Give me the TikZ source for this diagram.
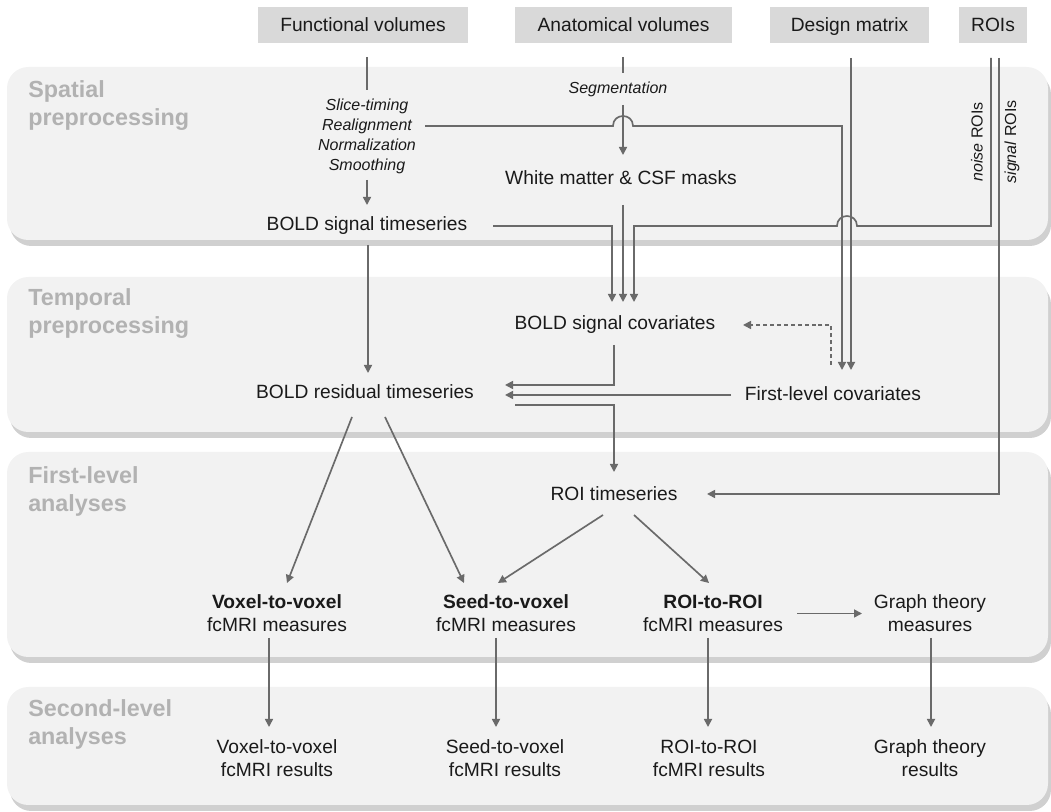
\documentclass[tikz,border=0pt]{standalone}
\usepackage{fontspec}
\setmainfont{Liberation Sans}
\usetikzlibrary{arrows.meta,calc}
\definecolor{linec}{HTML}{6A6A6A}
\definecolor{txtc}{HTML}{1A1A1A}
\definecolor{panelc}{HTML}{F2F2F2}
\definecolor{shadowc}{HTML}{D0D0D0}
\definecolor{hdrc}{HTML}{D9D9D9}
\definecolor{titc}{HTML}{B2B2B2}
\begin{document}
\begin{tikzpicture}[x=0.75pt,y=-0.75pt,
  conn/.style={draw=linec, line width=1.25pt},
  arr/.style={conn, -{Triangle[length=6pt,width=6pt]}},
  dasharr/.style={arr, dash pattern=on 3pt off 2.2pt},
  txt/.style={font=\fontsize{14.4}{17.3}\selectfont, text=txtc, inner sep=0pt, align=center},
  itx/.style={font=\fontsize{12}{15}\selectfont\itshape, text=txtc, inner sep=0pt, align=center},
  rot/.style={font=\fontsize{12}{15}\selectfont, text=txtc, inner sep=0pt, rotate=90},
  hdr/.style={txt, fill=hdrc, minimum height=27pt, text height=10.3pt, text depth=0pt},
  ptitle/.style={font=\fontsize{17.5}{21}\selectfont\bfseries, text=titc, align=left, anchor=west, inner sep=0pt},
  panel/.style={fill=panelc, rounded corners=16pt},
  pshadow/.style={fill=shadowc, rounded corners=16pt}]
\useasboundingbox (0,0) rectangle (1051,812);
% panels
\foreach \t/\b in {67/240, 277/432, 452/657, 687/805} {
  \path[pshadow] (10,\t+6) rectangle (1051,\b+6);
  \path[panel] (7,\t) rectangle (1048,\b);
}
\node[ptitle] (t1) at (28,106) {Spatial\\preprocessing};
\node[ptitle] (t2) at (28,314) {Temporal\\preprocessing};
\node[ptitle] (t3) at (28,491.5) {First-level\\analyses};
\node[ptitle] (t4) at (28,724) {Second-level\\analyses};
% header boxes
\node[hdr, minimum width=157.5pt] (fv) at (363,25) {Functional volumes};
\node[hdr, minimum width=162.75pt] (av) at (623.5,25) {Anatomical volumes};
\node[hdr, minimum width=119.25pt] (dm) at (849.5,25) {Design matrix};
\node[hdr, minimum width=51pt] (roi) at (993,25) {ROIs};
% text nodes
\node[itx] (steps) at (367,136) {Slice-timing\\Realignment\\Normalization\\Smoothing};
\node[itx] (seg) at (618,89) {Segmentation};
\node[txt] (bst) at (367,226) {BOLD signal timeseries};
\node[txt] (wm) at (621,178) {White matter \& CSF masks};
\node[txt] (bsc) at (615,325) {BOLD signal covariates};
\node[txt] (flc) at (833,394) {First-level covariates};
\node[txt] (brt) at (365,392) {BOLD residual timeseries};
\node[txt] (roits) at (614,494) {ROI timeseries};
\node[txt] (vv) at (277,613.5) {\textbf{Voxel-to-voxel}\\fcMRI measures};
\node[txt] (sv) at (506,613.5) {\textbf{Seed-to-voxel}\\fcMRI measures};
\node[txt] (rr) at (713,613.5) {\textbf{ROI-to-ROI}\\fcMRI measures};
\node[txt] (gt) at (930,613.5) {Graph theory\\measures};
\node[txt] (vvr) at (277,758.5) {Voxel-to-voxel\\fcMRI results};
\node[txt] (svr) at (505,758.5) {Seed-to-voxel\\fcMRI results};
\node[txt] (rrr) at (709,758.5) {ROI-to-ROI\\fcMRI results};
\node[txt] (gtr) at (930,758.5) {Graph theory\\results};
\node[rot] (noise) at (977,142) {\textit{noise} ROIs};
\node[rot] (signal) at (1012,142) {\textit{signal} ROIs};
% connectors
\draw[conn] ($(fv.center)+(4,32)$) -- ($(steps.center)+(0,-46)$);
\draw[arr] ($(steps.center)+(0,44)$) -- ($(bst.center)+(0,-21)$);
\draw[conn] ($(av.center)+(-0.5,32)$) -- ($(seg.center)+(5,-16)$);
\draw[arr] ($(seg.center)+(5,16)$) -- ($(wm.center)+(2,-23)$);
% realignment -> first-level covariates (jumps over anatomical line)
\draw[arr] ($(steps.center)+(58,-10)$) -- (613,126)
  .. controls (613,112.7) and (633,112.7) .. (633,126)
  -- (842,126) -- ($(flc.center)+(9,-24)$);
% design matrix -> first-level covariates
\draw[arr] ($(dm.center)+(1.5,33)$) -- ($(flc.center)+(18,-24)$);
% noise ROIs -> BOLD signal covariates (jumps over two lines)
\draw[arr] ($(roi.center)+(-2,33)$) -- (991,226) -- (857,226)
  .. controls (857,212.7) and (837,212.7) .. (837,226)
  -- (634,226) -- ($(bsc.center)+(19,-23)$);
% BOLD signal timeseries -> BOLD signal covariates
\draw[arr] ($(bst.center)+(126,0)$) -- (612,226) -- ($(bsc.center)+(-3,-23)$);
% masks -> BOLD signal covariates
\draw[arr] ($(wm.center)+(2,27)$) -- ($(bsc.center)+(8,-23)$);
% signal ROIs -> ROI timeseries
\draw[arr] ($(roi.center)+(6,33)$) -- (999,494) -- ($(roits.center)+(93,0)$);
% temporal preprocessing
\draw[arr] ($(bst.center)+(1,19)$) -- ($(brt.center)+(3,-19)$);
\draw[arr] ($(bsc.center)+(-1,20)$) -- (614,385) -- ($(brt.center)+(140,-7)$);
\draw[arr] ($(flc.center)+(-102,1)$) -- ($(brt.center)+(140,3)$);
\draw[arr] ($(brt.center)+(150,13)$) -- (614,405) -- ($(roits.center)+(0,-22)$);
\draw[dasharr] ($(flc.center)+(-2,-29)$) -- (831,325) -- ($(bsc.center)+(128,0)$);
% first-level analyses
\draw[arr] ($(brt.center)+(-13,25)$) -- ($(vv.center)+(10,-30.5)$);
\draw[arr] ($(brt.center)+(20,25)$) -- ($(sv.center)+(-42,-30.5)$);
\draw[arr] ($(roits.center)+(-11,21)$) -- ($(sv.center)+(-8,-30.5)$);
\draw[arr] ($(roits.center)+(20,21)$) -- ($(rr.center)+(-4,-30.5)$);
\draw[arr] ($(rr.center)+(84,0)$) -- ($(gt.center)+(-68,0)$);
% second-level analyses
\draw[arr] ($(vv.center)+(-8,24.5)$) -- ($(vvr.center)+(-8,-31.5)$);
\draw[arr] ($(sv.center)+(-10,24.5)$) -- ($(svr.center)+(-9,-31.5)$);
\draw[arr] ($(rr.center)+(-5,24.5)$) -- ($(rrr.center)+(-1,-31.5)$);
\draw[arr] ($(gt.center)+(1,24.5)$) -- ($(gtr.center)+(1,-31.5)$);
\end{tikzpicture}
\end{document}
